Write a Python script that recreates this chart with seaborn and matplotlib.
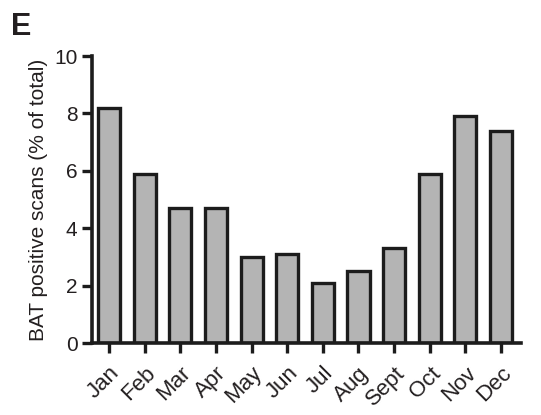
import matplotlib
matplotlib.use("Agg")
import matplotlib.pyplot as plt
import seaborn as sns
import pandas as pd

months = ["Jan", "Feb", "Mar", "Apr", "May", "Jun", "Jul", "Aug", "Sept", "Oct", "Nov", "Dec"]
values = [8.2, 5.9, 4.7, 4.7, 3.0, 3.1, 2.1, 2.5, 3.3, 5.9, 7.9, 7.4]
yticks = [0, 2, 4, 6, 8, 10]

sns.set_style("ticks")
plt.rcParams['font.family'] = ['Liberation Sans', 'DejaVu Sans']

df = pd.DataFrame({"month": months, "value": values})

fig = plt.figure(figsize=(5.41, 4.15), dpi=100)
ax = fig.add_axes([0.170, 0.173, 0.793, 0.692])
sns.barplot(data=df, x="month", y="value", color="#b4b4b4", saturation=1,
            edgecolor="#1c1c1c", linewidth=2.4, width=0.62, ax=ax)

ax.set_xlim(-0.48, 11.56)
ax.set_ylim(0, 10)
ax.set_yticks(yticks)
ax.set_ylabel("BAT positive scans (% of total)", fontsize=15, color="#231f20", labelpad=4)
ax.set_xlabel("")
sns.despine(ax=ax)
for s in ["left", "bottom"]:
    ax.spines[s].set_linewidth(2.6)
    ax.spines[s].set_color("#1c1c1c")
ax.tick_params(axis="both", width=2.4, length=7, color="#1c1c1c", labelsize=15, labelcolor="#231f20")
ax.tick_params(axis="x", pad=7, labelsize=16)
plt.setp(ax.get_xticklabels(), rotation=45, ha="right", rotation_mode="anchor")
fig.text(0.02, 0.97, "E", fontsize=22, fontweight="bold", va="top", ha="left", color="#231f20")

fig.savefig("out.png", dpi=100)
